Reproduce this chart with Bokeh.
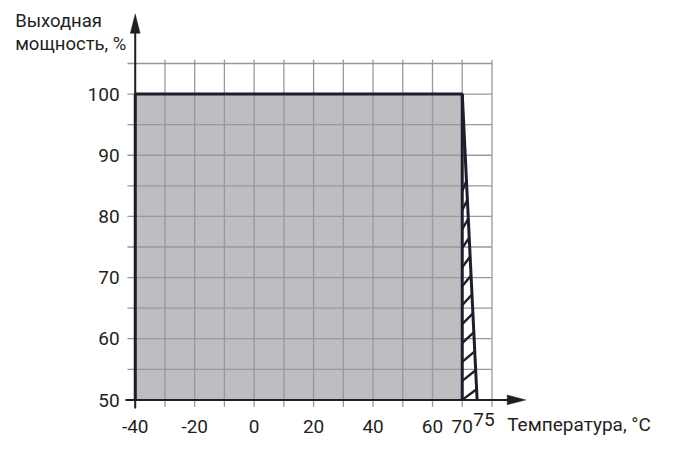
from bokeh.plotting import figure
from bokeh.models import Range1d
from bokeh.embed import file_html
from bokeh.resources import INLINE
from bokeh.core.properties import value

# ---- data -------------------------------------------------------------
temps = [-40, 70, 75]          # °C : start of full power, start of derating, end of derating
power = [100, 100, 50]         # % output power at those temperatures
base_power = 50                # bottom of the y axis

x_tick_values = [-40, -20, 0, 20, 40, 60, 70]
x_tick_labels = ["-40", "-20", "0", "20", "40", "60", "70"]
x_extra_tick = [75]
x_extra_label = ["75"]
y_tick_values = [50, 60, 70, 80, 90, 100]
y_tick_labels = ["50", "60", "70", "80", "90", "100"]
x_grid = [-40, -30, -20, -10, 0, 10, 20, 30, 40, 50, 60, 70, 80]
y_grid = [50, 55, 60, 65, 70, 75, 80, 85, 90, 95, 100, 105]
x_title = "Температура, °C"
y_title = ["Выходная", "мощность, %"]

# ---- styles -----------------------------------------------------------
FILL = "#bdbec2"
DARK = "#1e1d2b"
TEXT = "#231f20"
GRID = "#999999"
FONT = value("Roboto")
FS = "19px"
FS_TITLE = "18.5px"

# ---- scale (pixel geometry) -------------------------------------------
W, H = 659, 437
KX = W / 675.0          # shrink factor of the layout to fit the page
KY = H / 453.0
SX = 3.045 * KX         # px per °C
SY = 6.34 * KY          # px per %
X0_PX = 138 * KX        # canvas px of x = -40
Y0_PX = 414 * KY        # canvas px (from top) of y = 50
TDY = -7                # correction of the rendered text baseline

x_start = temps[0] - X0_PX / SX
x_end = x_start + W / SX
y_start = base_power - (H - Y0_PX) / SY
y_end = y_start + H / SY


def dx(px):
    return px * KX / SX


def dy(px):
    return px * KY / SY


def ox(px):
    return px * KX


def oy(px):
    return px * KY + TDY


p = figure(width=W, height=H, x_range=Range1d(x_start, x_end), y_range=Range1d(y_start, y_end),
           x_axis_type=None, y_axis_type=None, output_backend="svg", toolbar_location=None,
           min_border=0, outline_line_color=None, background_fill_color="white",
           border_fill_color="white")
p.grid.visible = False

xl, xr = temps[0], temps[1]
ytop = power[0]

# gray full-power region
p.patch(x=[xl, xl, xr, xr], y=[base_power, ytop, ytop, base_power], fill_color=FILL, line_color=None)

# grid
gy0 = base_power - dy(7)
gy1 = y_grid[-1] + dy(4)
p.segment(x0=x_grid, y0=[gy0] * len(x_grid), x1=x_grid, y1=[gy1] * len(x_grid),
          line_color=GRID, line_width=1.3)
p.segment(x0=[xl - dx(8)] * len(y_grid), y0=y_grid, x1=[x_grid[-1]] * len(y_grid), y1=y_grid,
          line_color=GRID, line_width=1.3)


# hatching of the derating triangle
def slant_x(y):
    return temps[1] + (power[1] - y) / (power[1] - power[2]) * (temps[2] - temps[1])


hx0, hy0, hx1, hy1 = [], [], [], []
for k in range(12):
    y0 = base_power + 3.1 * k
    y1 = y0 + dy(11)
    hx0.append(temps[1]); hy0.append(y0)
    hx1.append(slant_x(y1)); hy1.append(y1)
p.segment(x0=hx0, y0=hy0, x1=hx1, y1=hy1, line_color=DARK, line_width=2.4)

# axes with arrow heads
ax_tip_x = xl + dx(400)
ay_tip = ytop + dy(83)
p.line(x=[xl - dx(10), ax_tip_x - dx(15)], y=[base_power, base_power], line_color=TEXT, line_width=2)
p.line(x=[xl, xl], y=[base_power - dy(9), ay_tip - dy(15)], line_color=TEXT, line_width=2)
p.patch(x=[xl, xl - dx(5), xl + dx(5)], y=[ay_tip, ay_tip - dy(20), ay_tip - dy(20)],
        fill_color=TEXT, line_color=TEXT, line_width=0.5)
p.patch(x=[ax_tip_x, ax_tip_x - dx(19), ax_tip_x - dx(19)],
        y=[base_power, base_power + dy(5), base_power - dy(5)],
        fill_color=TEXT, line_color=TEXT, line_width=0.5)

# power curve outline
p.line(x=[xl, xl, xr, xr], y=[base_power, ytop, ytop, base_power], line_color=DARK, line_width=3)
p.line(x=temps[1:], y=power[1:], line_color=DARK, line_width=3)

# tick labels
p.text(x=[xl] * len(y_tick_values), y=y_tick_values, text=y_tick_labels, x_offset=ox(-16), y_offset=oy(7.5),
       text_align="right", text_baseline="alphabetic", text_font=FONT, text_font_size=FS,
       text_color=TEXT)
p.text(x=x_tick_values, y=[base_power] * len(x_tick_values), text=x_tick_labels, y_offset=oy(35),
       text_align="center", text_baseline="alphabetic", text_font=FONT, text_font_size=FS,
       text_color=TEXT)
p.text(x=x_extra_tick, y=[base_power], text=x_extra_label, x_offset=ox(7), y_offset=oy(28),
       text_align="center", text_baseline="alphabetic", text_font=FONT, text_font_size=FS,
       text_color=TEXT)

# titles
p.text(x=[ax_tip_x], y=[base_power], text=[x_title], x_offset=ox(-19), y_offset=oy(33),
       text_align="left", text_baseline="alphabetic", text_font=FONT, text_font_size=FS,
       text_color=TEXT)
p.text(x=[xl, xl], y=[ay_tip, ay_tip], text=y_title, x_offset=ox(-123), y_offset=[oy(14), oy(38)],
       text_align="left", text_baseline="alphabetic", text_font=FONT, text_font_size=FS_TITLE,
       text_color=TEXT)

open("out.html", "w").write(file_html(p, INLINE))
